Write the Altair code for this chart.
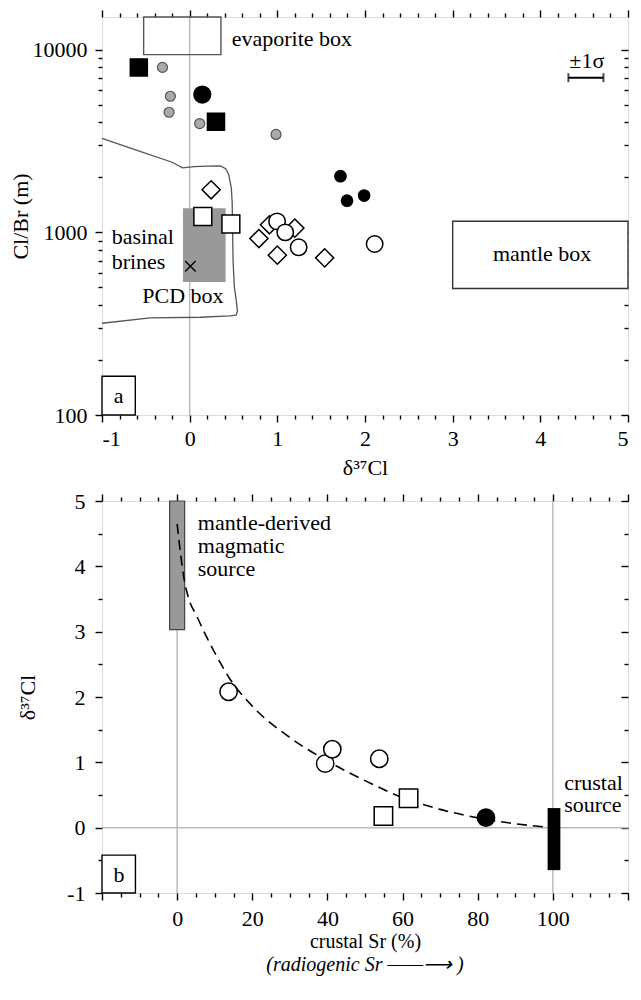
import altair as alt
import pandas as pd

FONT = "Liberation Serif"
FS = 22      # tick labels
TFS = 22     # annotations
AFS = 22     # axis titles

# ================= Panel a : Cl/Br vs d37Cl =================
a_x_domain = [-1, 5]
a_y_domain = [100, 15100]
a_x_major = [-1, 0, 1, 2, 3, 4, 5]
a_x_minor = [round(-1 + 0.2 * i, 1) for i in range(31) if i % 5]
a_y_major = [100, 1000, 10000]
a_y_minor = [200, 300, 400, 500, 600, 700, 800, 900,
             2000, 3000, 4000, 5000, 6000, 7000, 8000, 9000]

gray_x = [-0.31, -0.22, -0.235, 0.114, 0.985]
gray_y = [8000, 5560, 4545, 3940, 3435]
blksq_a_x = [-0.58, 0.30]
blksq_a_y = [8000, 4030]
blkbig_a_x = [0.144]
blkbig_a_y = [5680]
blksm_a_x = [1.72, 1.795, 1.99]
blksm_a_y = [2030, 1490, 1590]
opensq_a_x = [0.15, 0.47]
opensq_a_y = [1222, 1110]
opencirc_a_x = [0.997, 1.09, 1.243, 2.11]
opencirc_a_y = [1148, 1000, 828, 863]
diam_x = [0.245, 0.79, 0.91, 1.20, 1.00, 1.54]
diam_y = [1710, 925, 1100, 1055, 750, 725]
cross_x = [0.008]
cross_y = [653]

# boxes
pcd_box = dict(x=[-0.076], x2=[0.41], y=[535], y2=[1355])
evap_box = dict(x=[-0.525], x2=[0.357], y=[9400], y2=[15100])
mantle_box = dict(x=[3.0], x2=[5.0], y=[493], y2=[1150])
a_label_box = dict(x=[-1.0], x2=[-0.62], y=[100], y2=[163])

# basinal brines outline
brine_x = [-1, -0.6, -0.2, -0.08, 0.05, 0.2, 0.35, 0.41, 0.445, 0.475, 0.485,
           0.49, 0.495, 0.51, 0.53, 0.545, 0.53, 0.46, 0.12, -0.45, -1]
brine_y = [3270, 2813, 2420, 2255, 2290, 2305, 2310, 2230, 2075, 1754, 1450,
           1000, 700, 500, 430, 370, 352, 349, 343, 340, 318]

# +-1 sigma bar
sig_lo = [4.32]
sig_hi = [4.72]
sig_y = [7030]

# ================= Panel b : d37Cl vs crustal Sr =================
b_x_domain = [-20, 120]
b_y_domain = [-1, 5]
b_x_major = [-20, 0, 20, 40, 60, 80, 100, 120]
b_x_minor = [v for v in range(-15, 120, 5) if v % 20]
b_y_major = [-1, 0, 1, 2, 3, 4, 5]
b_y_minor = [-0.5, 0.5, 1.5, 2.5, 3.5, 4.5]

opencirc_b_x = [13.7, 39.4, 41.3, 53.8]
opencirc_b_y = [2.08, 0.98, 1.20, 1.055]
opensq_b_x = [54.9, 61.6]
opensq_b_y = [0.18, 0.45]
blk_b_x = [82.2]
blk_b_y = [0.155]

mix_x = [0, 1, 1.75, 3, 5.2, 8, 10, 14, 20, 30, 40, 50, 60, 70, 80, 90, 100]
mix_y = [4.65, 4.15, 3.84, 3.52, 3.24, 2.9, 2.68, 2.28, 1.86, 1.38, 1.02,
         0.72, 0.46, 0.28, 0.15, 0.06, 0.0]

mantle_bar = dict(x=[-2.0], x2=[2.0], y=[3.03], y2=[5.0])
crust_bar = dict(x=[98.6], x2=[102.0], y=[-0.65], y2=[0.3])
b_label_box = dict(x=[-20.0], x2=[-11.1], y=[-1.0], y2=[-0.42])


# ---------------- helpers ----------------
def axis(orient, values, major=True, labels=False, title=None, lpad=6,
         tpad=6, tsize=AFS, offset=0, label_expr="'' + datum.value"):
    kw = dict(orient=orient, values=values, tickSize=7 if major else 4,
              tickWidth=1.4, tickColor="black", domain=False, grid=False,
              labels=labels, ticks=True, offset=offset)
    if labels:
        kw.update(labelFont=FONT, labelFontSize=FS, labelColor="black",
                  labelPadding=lpad, labelExpr=label_expr)
    if title:
        kw.update(title=title, titleFont=FONT, titleFontSize=tsize,
                  titleFontWeight="normal", titleColor="black",
                  titlePadding=tpad)
    else:
        kw["title"] = None
    return alt.Axis(**kw)


def box_layer(d, xs, ys, xaxis=None, yaxis=None, fill="white", stroke="black",
              sw=1.4, fill_opacity=1.0):
    df = pd.DataFrame(d)
    return alt.Chart(df).mark_rect(fill=fill, stroke=stroke, strokeWidth=sw,
                                   fillOpacity=fill_opacity).encode(
        x=alt.X("x:Q", scale=xs, axis=xaxis),
        x2="x2:Q",
        y=alt.Y("y:Q", scale=ys, axis=yaxis),
        y2="y2:Q",
    )


def pts(xv, yv, xs, ys, shape="circle", size=250, fill="white",
        stroke="black", sw=1.5, filled=True, xaxis=None, yaxis=None):
    df = pd.DataFrame({"x": xv, "y": yv})
    return alt.Chart(df).mark_point(shape=shape, size=size, filled=filled,
                                    fill=fill, stroke=stroke, strokeWidth=sw,
                                    opacity=1).encode(
        x=alt.X("x:Q", scale=xs, axis=xaxis),
        y=alt.Y("y:Q", scale=ys, axis=yaxis),
    )


def txt(xv, yv, tv, xs, ys, align="left", size=TFS, style="normal"):
    df = pd.DataFrame({"x": xv, "y": yv, "t": tv})
    return alt.Chart(df).mark_text(align=align, baseline="middle", font=FONT,
                                   fontSize=size, fontStyle=style,
                                   color="black").encode(
        x=alt.X("x:Q", scale=xs, axis=None),
        y=alt.Y("y:Q", scale=ys, axis=None),
        text="t:N",
    )


W = 526

# ---------------- panel a ----------------
xa = alt.Scale(domain=a_x_domain, nice=False, zero=False)
ya = alt.Scale(type="log", domain=a_y_domain, nice=False)

grid_a = alt.Chart(pd.DataFrame({"x": [0]})).mark_rule(
    color="#bbbbbb", strokeWidth=1.5).encode(x=alt.X("x:Q", scale=xa, axis=None))

pcd = box_layer(pcd_box, xa, ya,
                xaxis=axis("bottom", a_x_major, labels=True, title="δ³⁷Cl",
                           lpad=6, tpad=8),
                yaxis=axis("left", a_y_major, labels=True, title="Cl/Br (m)",
                           lpad=8, tpad=0),
                fill="#999999", stroke="#999999", sw=0)
evap = box_layer(evap_box, xa, ya,
                 xaxis=axis("bottom", a_x_minor, major=False),
                 yaxis=axis("left", a_y_minor, major=False),
                 fill="white", fill_opacity=0, stroke="#555555")
mant = box_layer(mantle_box, xa, ya,
                 xaxis=axis("top", a_x_major),
                 yaxis=axis("right", a_y_major, offset=-7),
                 fill="white", stroke="#333333")
abox = box_layer(a_label_box, xa, ya,
                 xaxis=axis("top", a_x_minor, major=False),
                 yaxis=axis("right", a_y_minor, major=False, offset=-4),
                 fill="white", stroke="black")

brine = alt.Chart(pd.DataFrame({"x": brine_x, "y": brine_y,
                                "i": list(range(len(brine_x)))})).mark_line(
    color="#555555", strokeWidth=1.3).encode(
    x=alt.X("x:Q", scale=xa, axis=None),
    y=alt.Y("y:Q", scale=ya, axis=None),
    order="i:Q",
)

sig_df = pd.DataFrame({"lo": sig_lo, "hi": sig_hi, "y": sig_y})
sig_rule = alt.Chart(sig_df).mark_rule(color="black", strokeWidth=2).encode(
    x=alt.X("lo:Q", scale=xa, axis=None), x2="hi:Q",
    y=alt.Y("y:Q", scale=ya, axis=None))
sig_caps = alt.Chart(pd.DataFrame({"x": sig_lo + sig_hi, "y": sig_y * 2})).mark_tick(
    orient="vertical", size=9, thickness=2, color="black").encode(
    x=alt.X("x:Q", scale=xa, axis=None), y=alt.Y("y:Q", scale=ya, axis=None))

X_PATH = "M-1,-1L1,1M-1,1L1,-1"

panel_a = alt.layer(
    grid_a, pcd, evap, mant, brine,
    pts(cross_x, cross_y, xa, ya, shape=X_PATH, size=110, filled=False, sw=1.4),
    pts(diam_x, diam_y, xa, ya, shape="diamond", size=330),
    pts(opensq_a_x, opensq_a_y, xa, ya, shape="square", size=320),
    pts(opencirc_a_x, opencirc_a_y, xa, ya, shape="circle", size=270),
    pts(gray_x, gray_y, xa, ya, shape="circle", size=100, fill="#aaaaaa",
        stroke="#555555", sw=1.2),
    pts(blksq_a_x, blksq_a_y, xa, ya, shape="square", size=290, fill="black"),
    pts(blkbig_a_x, blkbig_a_y, xa, ya, shape="circle", size=280, fill="black"),
    pts(blksm_a_x, blksm_a_y, xa, ya, shape="circle", size=125, fill="black"),
    sig_rule, sig_caps,
    txt([0.48], [11480], ["evaporite box"], xa, ya),
    txt([4.53], [8700], ["±1σ"], xa, ya, align="center"),
    txt([-0.89, -0.89], [939, 686], ["basinal", "brines"], xa, ya),
    txt([-0.54], [447], ["PCD box"], xa, ya),
    txt([4.02], [762], ["mantle box"], xa, ya, align="center"),
    abox,
    txt([-0.81], [127], ["a"], xa, ya, align="center"),
).resolve_axis(x="independent", y="independent").properties(width=W, height=398)

# ---------------- panel b ----------------
xb = alt.Scale(domain=b_x_domain, nice=False, zero=False)
yb = alt.Scale(domain=b_y_domain, nice=False, zero=False)

gridv_b = alt.Chart(pd.DataFrame({"x": [0, 100]})).mark_rule(
    color="#bbbbbb", strokeWidth=1.5).encode(x=alt.X("x:Q", scale=xb, axis=None))
gridh_b = alt.Chart(pd.DataFrame({"y": [0]})).mark_rule(
    color="#bbbbbb", strokeWidth=1.5).encode(y=alt.Y("y:Q", scale=yb, axis=None))

mbar = box_layer(mantle_bar, xb, yb,
                 xaxis=axis("bottom", b_x_major, labels=True, title="crustal Sr (%)",
                            lpad=8, tpad=2, tsize=20,
                            label_expr="datum.value < 0 || datum.value > 100 ? '' : '' + datum.value"),
                 yaxis=axis("left", b_y_major, labels=True, title="δ³⁷Cl",
                            lpad=10, tpad=27),
                 fill="#999999", stroke="#444444", sw=1.2)
cbar = box_layer(crust_bar, xb, yb,
                 xaxis=axis("bottom", b_x_minor, major=False),
                 yaxis=axis("left", b_y_minor, major=False),
                 fill="black", stroke="black", sw=0)
bbox = box_layer(b_label_box, xb, yb,
                 xaxis=axis("top", b_x_major),
                 yaxis=axis("right", b_y_major, offset=-7),
                 fill="white", stroke="black")

mix = alt.Chart(pd.DataFrame({"x": mix_x, "y": mix_y})).mark_line(
    color="black", strokeWidth=1.6, strokeDash=[10, 6], interpolate="monotone").encode(
    x=alt.X("x:Q", scale=xb, axis=None),
    y=alt.Y("y:Q", scale=yb, axis=None),
)

oc_b = pts(opencirc_b_x, opencirc_b_y, xb, yb, shape="circle", size=300,
           xaxis=axis("top", b_x_minor, major=False),
           yaxis=axis("right", b_y_minor, major=False, offset=-4))

panel_b = alt.layer(
    gridv_b, gridh_b, mbar, cbar, mix, oc_b,
    pts(opensq_b_x, opensq_b_y, xb, yb, shape="square", size=340),
    pts(blk_b_x, blk_b_y, xb, yb, shape="circle", size=300, fill="black"),
    txt([5.5, 5.5, 5.5], [4.66, 4.31, 3.96],
        ["mantle-derived", "magmatic", "source"], xb, yb),
    txt([103, 103], [0.69, 0.34], ["crustal", "source"], xb, yb),
    bbox,
    txt([-15.5], [-0.72], ["b"], xb, yb, align="center"),
).resolve_axis(x="independent", y="independent").properties(
    width=W, height=392,
    title=alt.TitleParams("(radiogenic Sr ——⟶ )", orient="bottom", font=FONT,
                          fontSize=20, fontStyle="italic", fontWeight="normal",
                          color="black", offset=4),
)

chart = alt.vconcat(panel_a, panel_b, spacing=10).properties(
    padding={"left": 0, "top": 0, "right": 0, "bottom": 0}
).configure_view(stroke="black", strokeWidth=1.5).configure(background="white")

chart.save("out.html", embed_options={"renderer": "svg", "actions": False})
